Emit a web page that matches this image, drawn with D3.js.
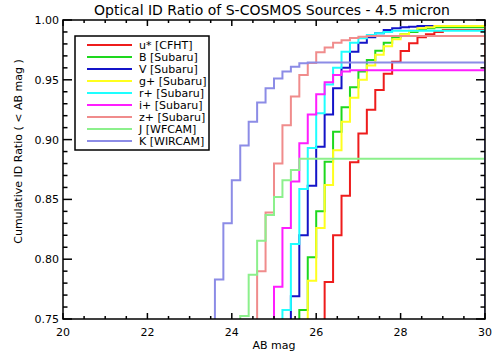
<!DOCTYPE html>
<html>
<head>
<meta charset="utf-8">
<script src="https://cdn.jsdelivr.net/npm/d3@7"></script>
<style>
  body { margin: 0; background: #fff; }
  text { font-family: 'DejaVu Sans', sans-serif; fill: #000; }
</style>
</head>
<body>
<div id="chart"></div>
<script>
// band labels, first bin edge (AB mag) and cumulative ratio per 0.2 mag bin
const bands = ['u* [CFHT]', 'B [Subaru]', 'V [Subaru]', 'g+ [Subaru]', 'r+ [Subaru]',
  'i+ [Subaru]', 'z+ [Subaru]', 'J [WFCAM]', 'K [WIRCAM]'];
const startMags = [26.2, 25.6, 25.4, 25.8, 25.2, 25.0, 24.6, 24.2, 23.6];
const binWidth = 0.2;

const uRatio = [0.781, 0.820, 0.853, 0.881, 0.905, 0.925, 0.9415, 0.955, 0.965, 0.974,
  0.9805, 0.9855, 0.988, 0.990, 0.9916];
const bRatio = [0.7575, 0.8016, 0.840, 0.8815, 0.9066, 0.927, 0.9437, 0.957, 0.9666,
  0.9743, 0.981, 0.9855, 0.988, 0.990, 0.992, 0.993, 0.994];
const vRatio = [0.769, 0.820, 0.8615, 0.894, 0.921, 0.943, 0.960, 0.9735, 0.981, 0.9855,
  0.989, 0.9916, 0.993, 0.9939, 0.9944, 0.995];
const gRatio = [0.782, 0.826, 0.862, 0.891, 0.915, 0.935, 0.950, 0.962, 0.971, 0.978,
  0.984, 0.988, 0.991, 0.993, 0.994, 0.995];
const rRatio = [0.7575, 0.8127, 0.8587, 0.893, 0.922, 0.946, 0.960, 0.9735, 0.981, 0.9847,
  0.9875, 0.9889, 0.990, 0.991];
const iRatio = [0.777, 0.826, 0.865, 0.897, 0.921, 0.938, 0.948, 0.954, 0.957, 0.958];
const zRatio = [0.790, 0.839, 0.880, 0.912, 0.936, 0.954, 0.964, 0.973, 0.977, 0.981,
  0.983, 0.985, 0.986, 0.9866];
const jRatio = [0.7525, 0.787, 0.8155, 0.837, 0.852, 0.866, 0.8746, 0.884];
const kRatio = [0.783, 0.830, 0.866, 0.895, 0.915, 0.931, 0.943, 0.951, 0.957, 0.961,
  0.9638, 0.9645];

const ratios = [uRatio, bRatio, vRatio, gRatio, rRatio, iRatio, zRatio, jRatio, kRatio];
const colors = ['#ee1c1c', '#1ed81e', '#1414c8', '#ffff1e', '#1effff', '#ff1eff',
  '#f08c8c', '#8cf08c', '#8c8ce6'];

const xTicks = [20, 22, 24, 26, 28, 30];
const yTicks = [0.75, 0.80, 0.85, 0.90, 0.95, 1.00];

const W = 504, H = 360;
const margin = { top: 20, right: 19, bottom: 41, left: 63 };
const width = W - margin.left - margin.right;
const height = H - margin.top - margin.bottom;

const svg = d3.select('#chart').append('svg')
  .attr('width', W).attr('height', H);
const g = svg.append('g')
  .attr('transform', `translate(${margin.left},${margin.top})`);

const x = d3.scaleLinear().domain([20, 30]).range([0, width]);
const y = d3.scaleLinear().domain([0.75, 1.0]).range([height, 0]);

g.append('clipPath').attr('id', 'plot')
  .append('rect').attr('width', width).attr('height', height);

const line = d3.line()
  .x((d) => x(d[0]))
  .y((d) => y(d[1]))
  .curve(d3.curveStepAfter);

const curves = g.append('g').attr('clip-path', 'url(#plot)');
ratios.forEach((vals, i) => {
  const m0 = startMags[i];
  const pts = [[m0, 0.7]];
  vals.forEach((v, j) => pts.push([m0 + j * binWidth, v]));
  pts.push([30, vals[vals.length - 1]]);
  pts.push([30, 0.7]);
  curves.append('path')
    .datum(pts)
    .attr('fill', 'none')
    .attr('stroke', colors[i])
    .attr('stroke-width', 2)
    .attr('d', line);
});

// frame with inward ticks on all four sides
const axisColor = '#000';
const minorX = d3.range(20, 30.01, 0.5);
const minorY = d3.range(0.75, 1.0001, 0.01);

function ticksX(yPos, dir) {
  minorX.forEach((v) => {
    const major = Math.abs(v / 2 - Math.round(v / 2)) < 1e-6;
    const len = major ? 6 : 3;
    g.append('line')
      .attr('x1', x(v)).attr('x2', x(v))
      .attr('y1', yPos).attr('y2', yPos + dir * len)
      .attr('stroke', axisColor).attr('stroke-width', 1.5);
  });
}
function ticksY(xPos, dir) {
  minorY.forEach((v, i) => {
    const len = i % 5 === 0 ? 9 : 4.5;
    g.append('line')
      .attr('x1', xPos).attr('x2', xPos + dir * len)
      .attr('y1', y(v)).attr('y2', y(v))
      .attr('stroke', axisColor).attr('stroke-width', 1.5);
  });
}
ticksX(height, -1);
ticksX(0, 1);
ticksY(0, 1);
ticksY(width, -1);

g.append('rect')
  .attr('width', width).attr('height', height)
  .attr('fill', 'none')
  .attr('stroke', axisColor).attr('stroke-width', 1.5);

// tick labels
g.selectAll('.xl').data(xTicks).enter().append('text')
  .attr('x', (d) => x(d)).attr('y', height + 17)
  .attr('text-anchor', 'middle')
  .style('font-size', '11px')
  .text((d) => d);

g.selectAll('.yl').data(yTicks).enter().append('text')
  .attr('x', -4).attr('y', (d) => y(d) + 4)
  .attr('text-anchor', 'end')
  .style('font-size', '11px')
  .text(d3.format('.2f'));

// axis titles
g.append('text')
  .attr('x', width / 2).attr('y', height + 30)
  .attr('text-anchor', 'middle')
  .style('font-size', '11px')
  .text('AB mag');

g.append('text')
  .attr('transform', `translate(-41,${height / 2 - 18}) rotate(-90)`)
  .attr('text-anchor', 'middle')
  .style('font-size', '11px')
  .text('Cumulative ID Ratio ( < AB mag )');

svg.append('text')
  .attr('x', margin.left + width / 2 - 2).attr('y', 15)
  .attr('text-anchor', 'middle')
  .style('font-size', '14px')
  .text('Optical ID Ratio of S-COSMOS Sources - 4.5 micron');

// legend
const legend = g.append('g').attr('transform', 'translate(12,16)');
legend.append('rect')
  .attr('width', 134).attr('height', 114)
  .attr('fill', '#fff')
  .attr('stroke', '#000').attr('stroke-width', 1.5);
bands.forEach((name, i) => {
  const ly = 9 + i * 12;
  legend.append('line')
    .attr('x1', 12).attr('x2', 57)
    .attr('y1', ly).attr('y2', ly)
    .attr('stroke', colors[i]).attr('stroke-width', 2);
  legend.append('text')
    .attr('x', 64).attr('y', ly + 4)
    .style('font-size', '11px')
    .text(name);
});
</script>
</body>
</html>
